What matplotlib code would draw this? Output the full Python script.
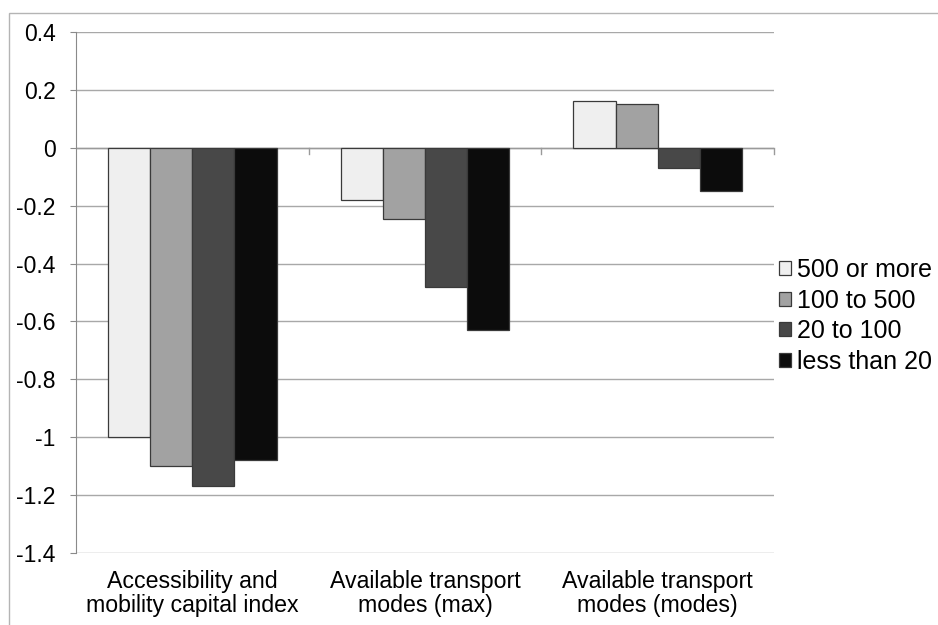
import matplotlib
matplotlib.use("Agg")
import matplotlib.pyplot as plt
import numpy as np
from matplotlib.patches import Rectangle

plt.rcParams['font.family'] = ['Liberation Sans', 'DejaVu Sans']

categories = ["Accessibility and\nmobility capital index",
              "Available transport\nmodes (max)",
              "Available transport\nmodes (modes)"]
series_names = ["500 or more", "100 to 500", "20 to 100", "less than 20"]
values_500_plus = [-1.00, -0.18, 0.162]
values_100_500 = [-1.10, -0.247, 0.152]
values_20_100 = [-1.168, -0.48, -0.069]
values_under_20 = [-1.078, -0.63, -0.148]
yticks = [0.4, 0.2, 0, -0.2, -0.4, -0.6, -0.8, -1, -1.2, -1.4]
ytick_labels = ["0.4", "0.2", "0", "-0.2", "-0.4", "-0.6", "-0.8", "-1", "-1.2", "-1.4"]

series = [values_500_plus, values_100_500, values_20_100, values_under_20]
colors = ["#efefef", "#a2a2a2", "#484848", "#0c0c0c"]

W, H = 938, 625
fig = plt.figure(figsize=(W / 100, H / 100), dpi=100)
ax = fig.add_axes([76 / W, 1 - 553 / H, (774 - 76) / W, (553 - 32) / H])

# outer chart-area frame
fig.patches.append(Rectangle((9 / W, -0.05), 1.2, 1 - 13 / H + 0.05,
                             transform=fig.transFigure, fill=False,
                             edgecolor="#b4b4b4", linewidth=1.0, zorder=0))

x = np.arange(len(categories))
bw = 0.181
for i, (vals, col, name) in enumerate(zip(series, colors, series_names)):
    ax.bar(x + (i - 1.5) * bw, vals, width=bw, color=col,
           edgecolor="#3a3a3a", linewidth=0.9, label=name, zorder=3)

ax.set_xlim(-0.5, 2.5)
ax.set_ylim(-1.4, 0.4)
ax.set_yticks(yticks)
ax.set_yticklabels(ytick_labels, fontsize=16.5)
ax.yaxis.grid(True, color="#a8a8a8", linewidth=1.0, zorder=0)
ax.set_axisbelow(True)

# category axis drawn at zero with boundary tick marks
ax.axhline(0, color="#9a9a9a", linewidth=1.0, zorder=2)
for b in [0.5, 1.5, 2.5]:
    ax.plot([b, b], [0, -0.02], color="#9a9a9a", linewidth=1.0,
            zorder=2, clip_on=False)

ax.set_xticks(x)
ax.set_xticklabels(categories, fontsize=16.7, linespacing=1.1)
ax.tick_params(axis="x", length=0, pad=12)
ax.tick_params(axis="y", length=4.5, color="#8a8a8a", pad=10)

for s in ["top", "right", "bottom"]:
    ax.spines[s].set_visible(False)
ax.spines["left"].set_color("#8a8a8a")

leg = ax.legend(loc="center left", bbox_to_anchor=(1.0, 0.455), frameon=False,
                fontsize=18, handlelength=0.48, handleheight=0.48,
                handletextpad=0.22, labelspacing=0.27, borderaxespad=0.0,
                borderpad=0.2)

fig.savefig("out.png", dpi=100)
